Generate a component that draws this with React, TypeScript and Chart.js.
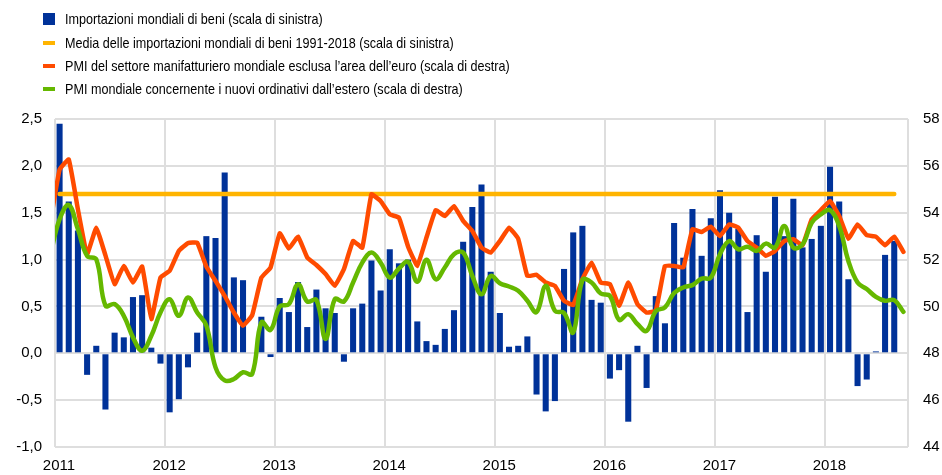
import React, { useEffect, useRef } from 'react';
import { Chart, registerables } from 'chart.js';

Chart.register(...registerables);

// x axis: years (each year = 12 monthly slots, Jan 2011 .. Sep 2018)
const years = ['2011', '2012', '2013', '2014', '2015', '2016', '2017', '2018'];

// World imports of goods (left scale), Jan 2011 – Aug 2018
const imports = [
  2.45, 1.62, 1.31, -0.23, 0.08, -0.6, 0.22, 0.17, 0.6, 0.62, 0.06, -0.11,
  -0.63, -0.49, -0.15, 0.22, 1.25, 1.23, 1.93, 0.81, 0.78, 0.0, 0.39, -0.04,
  0.59, 0.44, 0.76, 0.28, 0.68, 0.48, 0.43, -0.09, 0.48, 0.53, 0.99, 0.67,
  1.11, 0.96, 1.0, 0.34, 0.13, 0.09, 0.26, 0.46, 1.19, 1.56, 1.8, 0.87,
  0.43, 0.07, 0.08, 0.18, -0.44, -0.62, -0.51, 0.9, 1.29, 1.36, 0.57, 0.54,
  -0.27, -0.18, -0.73, 0.08, -0.37, 0.61, 0.32, 1.39, 1.02, 1.54, 1.04, 1.44,
  1.74, 1.5, 1.33, 0.44, 1.26, 0.87, 1.67, 1.25, 1.65, 1.13, 1.22, 1.36,
  1.99, 1.62, 0.79, -0.35, -0.28, 0.02, 1.05, 1.2,
];

// Average world imports 1991-2018 (left scale)
const importsAverage = 1.7;

// Global manufacturing PMI excl. euro area (right scale), Dec 2010 – Sep 2018
const pmiManufacturing = [
  53.6,
  55.84, 56.27, 54.14, 52.23, 53.36, 52.18, 50.95, 51.73, 51.02, 51.7, 49.46, 51.23,
  51.52, 52.37, 52.7, 52.72, 51.7, 51.09, 50.45, 49.74, 49.18, 49.63, 51.23, 51.66,
  53.12, 52.47, 52.98, 52.09, 51.77, 51.38, 50.88, 51.59, 52.79, 52.51, 54.78, 54.5,
  53.93, 53.79, 52.55, 51.73, 52.94, 54.11, 53.86, 54.28, 53.65, 53.22, 52.51, 52.3,
  52.79, 53.36, 52.89, 51.3, 51.35, 51.02, 50.88, 50.24, 50.06, 51.16, 51.87, 51.02,
  50.95, 50.03, 51.02, 50.1, 49.74, 49.82, 51.73, 51.73, 51.66, 53.29, 53.18, 53.4,
  53.0, 53.5, 53.36, 52.79, 52.51, 52.16, 52.37, 52.79, 52.87, 52.61, 53.72, 54.11,
  54.5, 53.86, 52.89, 53.5, 53.04, 52.98, 52.61, 52.98, 52.33,
];

// Global PMI new export orders (right scale), Dec 2010 – Sep 2018
const pmiExportOrders = [
  52.2,
  53.72, 54.33, 53.29, 52.16, 52.01, 50.03, 50.1, 49.6, 48.68, 48.11, 48.75, 49.74,
  50.31, 49.6, 50.38, 49.74, 49.18, 47.4, 46.84, 46.9, 47.19, 47.12, 49.32, 49.0,
  50.0, 50.1, 50.95, 50.21, 50.27, 48.61, 50.31, 50.21, 51.02, 51.87, 52.3, 51.87,
  51.23, 51.62, 51.9, 51.05, 51.99, 51.16, 51.66, 52.23, 52.3, 51.3, 50.52, 51.3,
  50.99, 50.85, 50.67, 50.24, 49.76, 50.88, 49.82, 49.72, 48.89, 51.13, 51.02, 50.55,
  50.45, 49.43, 49.67, 49.25, 48.96, 49.8, 49.96, 50.57, 50.81, 50.91, 51.19, 51.23,
  52.23, 52.79, 52.44, 52.55, 52.37, 52.68, 52.51, 53.43, 52.51, 52.65, 53.57, 53.93,
  54.11, 53.43, 51.94, 51.02, 50.74, 50.41, 50.24, 50.27, 49.77,
];

const legendItems = [
  { label: 'Importazioni mondiali di beni (scala di sinistra)', color: '#003299', square: true },
  { label: 'Media delle importazioni mondiali di beni 1991-2018 (scala di sinistra)', color: '#FFB400', square: false },
  { label: 'PMI del settore manifatturiero mondiale esclusa l\u2019area dell\u2019euro (scala di destra)', color: '#FF4B00', square: false },
  { label: 'PMI mondiale concernente i nuovi ordinativi dall\u2019estero (scala di destra)', color: '#65B800', square: false },
];

const TOTAL_MONTHS = 93;

export default function App() {
  const ref = useRef<HTMLCanvasElement>(null);

  useEffect(() => {
    if (!ref.current) return;
    const barData = imports.map((v, i) => ({ x: i + 0.5, y: v }));
    const avgData = imports.map((_, i) => ({ x: i + 0.5, y: importsAverage }));
    const manData = pmiManufacturing.map((v, i) => ({ x: i - 0.5, y: v }));
    const expData = pmiExportOrders.map((v, i) => ({ x: i - 0.5, y: v }));
    const tickFont = { family: 'Arial, "Liberation Sans", sans-serif', size: 15 };

    const chart = new Chart(ref.current, {
      type: 'bar',
      data: {
        datasets: [
          {
            type: 'line', label: legendItems[3].label, data: expData, yAxisID: 'y2',
            borderColor: legendItems[3].color, borderWidth: 4.5, pointRadius: 0,
            tension: 0.4, borderJoinStyle: 'round', borderCapStyle: 'round', order: 0,
          } as any,
          {
            type: 'line', label: legendItems[2].label, data: manData, yAxisID: 'y2',
            borderColor: legendItems[2].color, borderWidth: 4.5, pointRadius: 0,
            tension: 0.1, borderJoinStyle: 'round', borderCapStyle: 'round', order: 1,
          } as any,
          {
            type: 'line', label: legendItems[1].label, data: avgData, yAxisID: 'y',
            borderColor: legendItems[1].color, borderWidth: 4.5, pointRadius: 0,
            tension: 0, borderCapStyle: 'round', order: 2,
          } as any,
          {
            type: 'bar', label: legendItems[0].label, data: barData, yAxisID: 'y',
            backgroundColor: legendItems[0].color, barPercentage: 0.66, categoryPercentage: 1,
            order: 3,
          } as any,
        ],
      },
      options: {
        animation: false,
        responsive: false,
        layout: { padding: { top: 119, left: 0, right: 0, bottom: 0 } },
        plugins: { legend: { display: false }, tooltip: { enabled: false } },
        scales: {
          x: {
            type: 'linear',
            min: 0,
            max: TOTAL_MONTHS,
            offset: false,
            afterBuildTicks: (s: any) => {
              const t = years.map((_, i) => ({ value: i * 12 }));
              t.push({ value: TOTAL_MONTHS });
              s.ticks = t;
            },
            afterFit: (s: any) => { s.height = 28; },
            grid: { offset: false, color: '#dedede', lineWidth: 2, drawTicks: false },
            border: { display: false },
            ticks: {
              font: tickFont, color: '#000', padding: 10, maxRotation: 0, autoSkip: false,
              labelOffset: 4,
              callback: (v: any) => {
                const n = Number(v);
                return n % 12 === 0 && n / 12 < years.length ? years[n / 12] : '';
              },
            },
          },
          y: {
            position: 'left',
            min: -1,
            max: 2.5,
            afterFit: (s: any) => { s.width = 55; },
            grid: { color: '#dedede', lineWidth: 2, drawTicks: false },
            border: { display: false },
            ticks: {
              stepSize: 0.5, font: tickFont, color: '#000', padding: 13,
              callback: (v: any) => Number(v).toFixed(1).replace('.', ','),
            },
          },
          y2: {
            position: 'right',
            min: 44,
            max: 58,
            afterFit: (s: any) => { s.width = 34; },
            grid: { display: false, drawTicks: false },
            border: { display: false },
            ticks: { stepSize: 2, font: tickFont, color: '#000', padding: 15 },
          },
        },
      } as any,
    });
    return () => chart.destroy();
  }, []);

  const rowCenters = [19, 42.5, 65.5, 88.5];

  return (
    <div style={{ position: 'fixed', left: 0, top: 0, width: 942, height: 475, background: '#fff' }}>
      <canvas ref={ref} width={942} height={475} style={{ position: 'absolute', left: 0, top: 0 }} />
      {legendItems.map((it, i) => (
        <React.Fragment key={i}>
          <div
            style={{
              position: 'absolute',
              left: 43,
              width: 12,
              top: it.square ? rowCenters[i] - 6 : rowCenters[i] - 2,
              height: it.square ? 12 : 4,
              background: it.color,
            }}
          />
          <div
            style={{
              position: 'absolute',
              left: 65,
              top: rowCenters[i] - 10,
              height: 20,
              lineHeight: '20px',
              fontFamily: 'Arial, "Liberation Sans", sans-serif',
              fontSize: 15,
              color: '#000',
              whiteSpace: 'nowrap',
              transform: 'scaleX(0.84)',
              transformOrigin: 'left center',
            }}
          >
            {it.label}
          </div>
        </React.Fragment>
      ))}
    </div>
  );
}
